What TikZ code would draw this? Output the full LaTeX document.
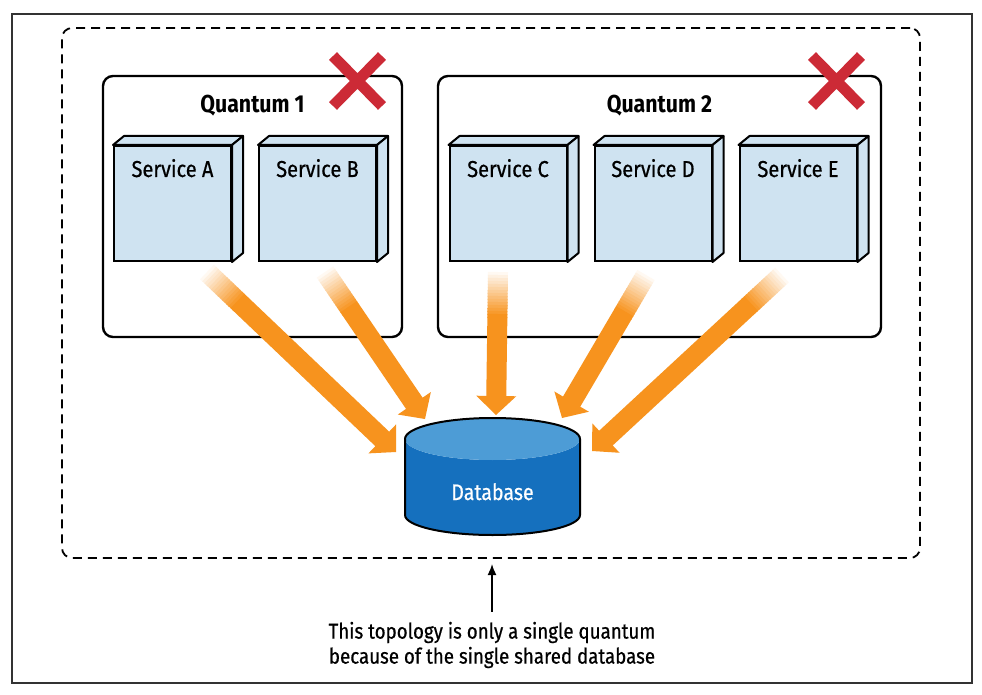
\documentclass[tikz,border=0pt]{standalone}
\usepackage{fontspec}
\setmainfont{Fira Sans}[FakeStretch=0.87]
\newfontfamily\medfont{Fira Sans}[FakeStretch=0.87, FakeBold=0.6]
\usetikzlibrary{calc,arrows.meta}
\definecolor{arrowc}{HTML}{F7931E}
\definecolor{svcfill}{HTML}{CFE3F1}
\definecolor{xred}{HTML}{CC2A36}
\definecolor{dbbody}{HTML}{1570BE}
\definecolor{dbtop}{HTML}{4D9CD6}
\tikzset{
  frame/.style={draw=black!80, line width=1.3pt},
  dashbox/.style={draw, line width=1.8pt, dash pattern=on 9pt off 6pt, rounded corners=10pt, minimum width=858pt, minimum height=530pt, inner sep=0pt},
  qbox/.style={draw, line width=2.4pt, rounded corners=10pt, fill=white, inner sep=0pt},
  qtitle/.style={font=\fontsize{24.5}{28}\selectfont\bfseries, anchor=base},
  svc/.style={draw, line width=2pt, fill=svcfill, minimum width=117pt, minimum height=115pt, inner sep=0pt},
  svcface/.style={draw, line width=2pt, fill=svcfill, line join=round},
  svclabel/.style={font=\medfont\fontsize{23}{27}\selectfont, anchor=base},
  xmark/.style={draw=xred, line width=11pt},
  dblabel/.style={font=\medfont\fontsize{22.5}{26}\selectfont, text=white, anchor=base},
  note/.style={font=\medfont\fontsize{21.5}{25}\selectfont, align=center, inner sep=1pt},
  pointer/.style={line width=1.6pt, -{Latex[length=11pt,width=9pt]}}
}
\newcommand\fadearrow[2]{%
  \foreach \i in {0,...,14}{%
    \pgfmathsetmacro\da{\i*3}%
    \pgfmathsetmacro\db{\i*3+4}%
    \pgfmathtruncatemacro\pc{(\i+1)*100/15}%
    \draw[line width=20pt, draw=arrowc!\pc] ($(#1)!\da pt!(#2)$) -- ($(#1)!\db pt!(#2)$);
  }%
  \coordinate (hb) at ($(#2)!19pt!(#1)$);
  \draw[line width=20pt, draw=arrowc] ($(#1)!45pt!(#2)$) -- ($(#2)!18pt!(#1)$);
  \fill[arrowc] (#2) -- ($(hb)!20pt!90:(#2)$) -- ($(hb)!20pt!-90:(#2)$) -- cycle;
}
\newcommand\servicebox[3]{% name, x, label
  \node[svc, label={[svclabel, yshift=-32pt]north:#3}] (#1) at (#2,203.5) {};
  \draw[svcface] (#1.north west) -- ++(11,-9) -- ($(#1.north east)+(11,-9)$) -- (#1.north east) -- cycle;
  \draw[svcface] (#1.north east) -- ++(11,-9) -- ($(#1.south east)+(11,-9)$) -- (#1.south east) -- cycle;
}
\begin{document}
\begin{tikzpicture}[x=1pt, y=-1pt]
\useasboundingbox (0,0) rectangle (982,695);
\fill[white] (0,0) rectangle (982,695);
\draw[frame] (12,14) rectangle (972,683);

\node[dashbox] (outer) at (491,293) {};

\node[qbox, minimum width=299pt, minimum height=261pt] (q1) at (252.5,206.5) {};
\node[qbox, minimum width=443pt, minimum height=261pt] (q2) at (659.5,206.5) {};
\node[qtitle] (q1t) at (252.5,113) {Quantum 1};
\node[qtitle] (q2t) at (659.5,113) {Quantum 2};

\servicebox{sa}{172.5}{Service A}
\servicebox{sb}{317.5}{Service B}
\servicebox{sc}{508}{Service C}
\servicebox{sd}{653}{Service D}
\servicebox{se}{798}{Service E}

% arrow end points
\coordinate (aS) at (207,272);  \coordinate (aT) at (396,452);
\coordinate (bS) at (325,272);  \coordinate (bT) at (425,419);
\coordinate (cS) at (498,272);  \coordinate (cT) at (496,415);
\coordinate (dS) at (646,275);  \coordinate (dT) at (562,418);
\coordinate (eS) at (782,275);  \coordinate (eT) at (592,451);
\fadearrow{aS}{aT}
\fadearrow{bS}{bT}
\fadearrow{cS}{cT}
\fadearrow{dS}{dT}
\fadearrow{eS}{eT}

% red crosses
\draw[xmark] (333,56) -- (382,106) (333,106) -- (382,56);
\draw[xmark] (812,56) -- (861,106) (812,106) -- (861,56);

% database cylinder
\fill[dbbody] (405,439) -- (405,515) arc[start angle=180, end angle=0, x radius=87.5, y radius=20]
  -- (580,439) arc[start angle=0, end angle=180, x radius=87.5, y radius=21] -- cycle;
\fill[dbtop] (492.5,439) ellipse [x radius=87.5, y radius=21];
\draw[line width=2pt] (405,439) -- (405,515) arc[start angle=180, end angle=0, x radius=87.5, y radius=20]
  -- (580,439) arc[start angle=0, end angle=-180, x radius=87.5, y radius=21] -- cycle;
\node[dblabel] (db) at (492.5,500) {Database};

% note
\node[note] (note) at (492,645) {This topology is only a single quantum\\because of the single shared database};
\coordinate (ptr) at (492,564);
\draw[pointer, shorten <=9pt] (note.north) -- (ptr);
\end{tikzpicture}
\end{document}
